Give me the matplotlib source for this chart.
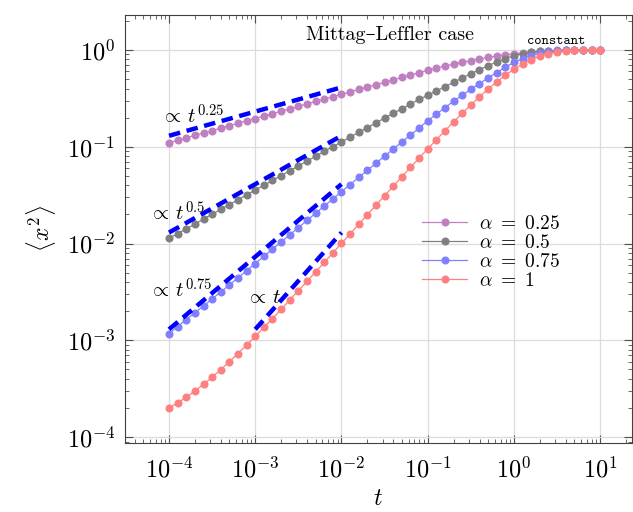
import numpy as np
import matplotlib
matplotlib.use('Agg')
import matplotlib.pyplot as plt

plt.rcParams['font.family'] = ['cmr10', 'DejaVu Serif']
plt.rcParams['mathtext.fontset'] = 'cm'
plt.rcParams['axes.formatter.use_mathtext'] = True

# time grid: 10 points per decade from 1e-4 to 1e1
t = np.logspace(-4, 1, 51)

msd_025 = [0.110, 0.117, 0.124, 0.131, 0.139, 0.147, 0.156, 0.165, 0.175, 0.185,
           0.196, 0.208, 0.220, 0.233, 0.247, 0.262, 0.277, 0.294, 0.311, 0.330,
           0.349, 0.369, 0.391, 0.414, 0.438, 0.464, 0.491, 0.520, 0.551, 0.584,
           0.618, 0.647, 0.684, 0.711, 0.746, 0.776, 0.807, 0.840, 0.867, 0.895,
           0.916, 0.938, 0.953, 0.968, 0.980, 0.990, 0.996, 1.0, 1.0, 1.0, 1.0]
msd_05 = [0.0113, 0.0127, 0.0142, 0.0159, 0.0179, 0.0201, 0.0225, 0.0253, 0.0283, 0.0318,
          0.0357, 0.0400, 0.0449, 0.0504, 0.0565, 0.0634, 0.0711, 0.0798, 0.0896, 0.1005,
          0.112, 0.126, 0.141, 0.158, 0.177, 0.198, 0.221, 0.247, 0.276, 0.309,
          0.340, 0.377, 0.418, 0.464, 0.514, 0.569, 0.626, 0.689, 0.752, 0.813,
          0.873, 0.916, 0.946, 0.968, 0.979, 0.988, 0.995, 1.0, 1.0, 1.0, 1.0]
msd_075 = [0.00117, 0.00139, 0.00164, 0.00193, 0.00227, 0.00268, 0.00317, 0.00374, 0.00443, 0.00525,
           0.00622, 0.00737, 0.00874, 0.01037, 0.01231, 0.01461, 0.01734, 0.0206, 0.0244, 0.0289,
           0.0344, 0.0407, 0.0482, 0.0571, 0.0677, 0.0801, 0.0948, 0.112, 0.132, 0.156,
           0.186, 0.217, 0.254, 0.296, 0.342, 0.392, 0.450, 0.515, 0.585, 0.665,
           0.745, 0.815, 0.875, 0.925, 0.958, 0.980, 0.991, 0.996, 1.0, 1.0, 1.0]
msd_1 = [0.000200, 0.000226, 0.000258, 0.000300, 0.000351, 0.000416, 0.000498, 0.000601, 0.000731, 0.000894,
         0.00110, 0.00136, 0.00168, 0.00209, 0.00261, 0.00326, 0.00407, 0.00510, 0.00639, 0.00801,
         0.01005, 0.01261, 0.01582, 0.01985, 0.02491, 0.03123, 0.03913, 0.04898, 0.06125, 0.07646,
         0.0953, 0.1184, 0.1467, 0.1810, 0.2221, 0.2711, 0.3284, 0.3942, 0.4680, 0.5482,
         0.6322, 0.7161, 0.7951, 0.8641, 0.9190, 0.9578, 0.9814, 0.9934, 0.9983, 0.9997, 1.0]

# guide lines (end points of the power-law slopes)
guide_t = [[1e-4, 1e-2], [1e-4, 1e-2], [1e-4, 1e-2], [1e-3, 1e-2]]
guide_y = [[0.13, 0.411], [0.013, 0.13], [0.0013, 0.0411], [0.0013, 0.013]]
guide_labels = [r'$\propto\, t^{0.25}$', r'$\propto\, t^{0.5}$', r'$\propto\, t^{0.75}$', r'$\propto\, t$']
guide_pos = [(0.071, 0.745), (0.047, 0.518), (0.047, 0.340), (0.239, 0.328)]

series = [msd_025, msd_05, msd_075, msd_1]
labels = [r'$\alpha\ =\ 0.25$', r'$\alpha\ =\ 0.5$', r'$\alpha\ =\ 0.75$', r'$\alpha\ =\ 1$']
colors = ['#bf80bf', '#808080', '#8080ff', '#ff8080']

fig = plt.figure(figsize=(6.33, 5.12), dpi=100)
ax = fig.add_axes([0.1975, 0.1348, 0.8005, 0.8359])

for y, lab, c in zip(series, labels, colors):
    ax.plot(t, y, '-o', color=c, lw=0.9, ms=4.8, mec=c, label=lab)

for gt, gy in zip(guide_t, guide_y):
    ax.plot(gt, gy, color='blue', lw=3.2, dashes=(2.6, 1.5), solid_capstyle='butt')

for txt, (px, py) in zip(guide_labels, guide_pos):
    ax.text(px, py, txt, transform=ax.transAxes, fontsize=15, ha='left', va='baseline')

ax.text(0.523, 0.953, 'Mittag–Leffler case', transform=ax.transAxes, fontsize=14.5,
        ha='center', va='center')
ax.text(0.850, 0.939, 'constant', transform=ax.transAxes, fontsize=10,
        family='cmtt10', ha='center', va='center')

ax.set_xscale('log')
ax.set_yscale('log')
ax.set_xlim(3.09e-5, 23.2)
ax.set_ylim(8.7e-5, 2.3)

ax.grid(True, which='major', color='#dcdcdc', lw=0.9)
ax.set_axisbelow(True)
ax.tick_params(which='both', direction='in', top=True, right=True, color='#505050')
ax.tick_params(which='major', length=6, labelsize=17.5)
ax.tick_params(axis='x', which='major', pad=10)
ax.tick_params(axis='y', which='major', pad=7)
ax.tick_params(which='minor', length=3)
for s in ax.spines.values():
    s.set_color('#404040')

ax.set_xlabel(r'$t$', fontsize=17, labelpad=4)
ax.set_ylabel(r'$\langle x^2 \rangle$', fontsize=17, labelpad=6)

ax.legend(loc='upper left', bbox_to_anchor=(0.56, 0.565), frameon=False, fontsize=14,
          handlelength=2.3, labelspacing=0.05, borderpad=0.2, handletextpad=0.6)

fig.savefig('out.png', dpi=100)
